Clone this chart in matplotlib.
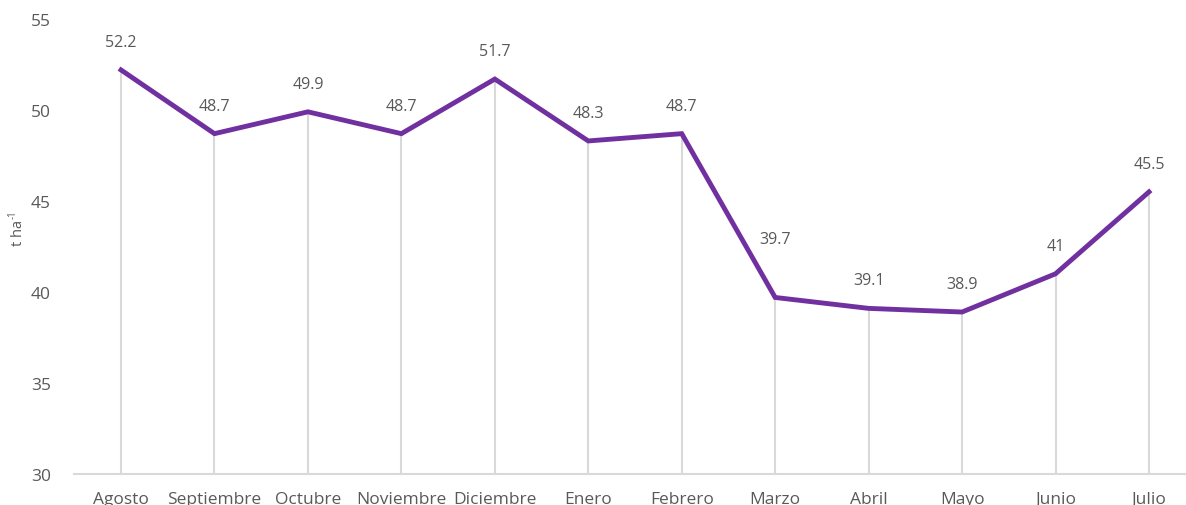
import matplotlib
matplotlib.use("Agg")
import matplotlib.pyplot as plt

months = ["Agosto", "Septiembre", "Octubre", "Noviembre", "Diciembre", "Enero",
          "Febrero", "Marzo", "Abril", "Mayo", "Junio", "Julio"]
values = [52.2, 48.7, 49.9, 48.7, 51.7, 48.3, 48.7, 39.7, 39.1, 38.9, 41, 45.5]
value_labels = ["52.2", "48.7", "49.9", "48.7", "51.7", "48.3", "48.7", "39.7",
                "39.1", "38.9", "41", "45.5"]
y_ticks = [30, 35, 40, 45, 50, 55]

plt.rcParams['font.family'] = ['Open Sans', 'DejaVu Sans']
gray_text = "#595959"
purple = "#7030A0"

fig = plt.figure(figsize=(11.86, 5.06), dpi=100)
W, H = 1186, 506
left, right = 74.3, 1195.7
bottom, top = 475, 20
ax = fig.add_axes([left / W, (H - bottom) / H, (right - left) / W, (bottom - top) / H])

x = list(range(len(months)))
ax.set_xlim(-0.5, len(months) - 0.5)
ax.set_ylim(30, 55)

# drop lines
ax.vlines(x, 30, values, colors="#D9D9D9", linewidth=1.5, zorder=1)
ax.plot(x, values, color=purple, linewidth=3.5, solid_joinstyle="miter", zorder=3)

special = {7: 58}
for i, (v, lab) in enumerate(zip(values, value_labels)):
    dy = special.get(i, 28)
    ax.annotate(lab, (i, v), xytext=(0, dy * 0.72), textcoords="offset points",
                ha="center", va="center", fontsize=11.5, color=gray_text)

for s in ["top", "right", "left"]:
    ax.spines[s].set_visible(False)
ax.spines["bottom"].set_color("#D9D9D9")
ax.spines["bottom"].set_linewidth(1.5)

ax.set_xticks(x)
ax.set_xticklabels(months)
ax.set_yticks(y_ticks)
ax.tick_params(axis="both", length=0, labelsize=12.5, colors=gray_text)
ax.tick_params(axis="x", pad=12)
ax.tick_params(axis="y", pad=17)

t = fig.text(18 / W, (H - 246) / H, "t ha", rotation=90, ha="center", va="bottom",
             fontsize=10.5, color=gray_text)
fig.canvas.draw()
ax.annotate("-1", xy=(0.15, 1.0), xycoords=t, xytext=(0, 0.5),
            textcoords="offset points", rotation=90, ha="center", va="bottom",
            fontsize=7, color=gray_text, annotation_clip=False)

fig.savefig("out.png", dpi=100)
